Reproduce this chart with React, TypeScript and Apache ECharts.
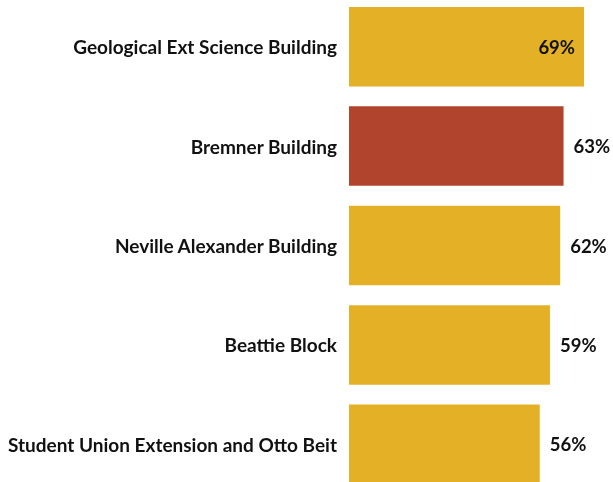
import React, { useEffect, useRef } from "react";
import * as echarts from "echarts";

const categories = [
  "Geological Ext Science Building",
  "Bremner Building",
  "Neville Alexander Building",
  "Beattie Block",
  "Student Union Extension and Otto Beit",
];
const values = [69, 63, 62, 59, 56];
const highlightIndex = 1;
const insideLabelIndex = 0;

const GOLD = "#E3B026";
const RED = "#B0442D";

export default function App() {
  const ref = useRef<HTMLDivElement>(null);
  useEffect(() => {
    if (!ref.current) return;
    const chart = echarts.init(ref.current, null, { renderer: "svg" });
    chart.setOption({
      animation: false,
      grid: {
        left: 349,
        width: 235,
        top: -3,
        height: 497,
        containLabel: false,
        outerBoundsMode: "none",
      },
      xAxis: {
        type: "value",
        min: 0,
        max: 69,
        show: false,
      },
      yAxis: {
        type: "category",
        data: categories,
        inverse: true,
        axisLine: { show: false },
        axisTick: { show: false },
        axisLabel: {
          color: "#111",
          fontFamily: "Lato",
          fontWeight: "bold",
          fontSize: 19,
          margin: 12,
        },
      },
      series: [
        {
          type: "bar",
          barCategoryGap: "20%",
          data: values.map((v, i) => ({
            value: v,
            itemStyle: { color: i === highlightIndex ? RED : GOLD },
            label:
              i === insideLabelIndex
                ? { position: "insideRight", distance: 9 }
                : { position: "right", distance: 10 },
          })),
          label: {
            show: true,
            formatter: "{c}%",
            color: "#111",
            fontFamily: "Lato",
            fontWeight: "bold",
            fontSize: 18.5,
          },
        },
      ],
    });
    return () => chart.dispose();
  }, []);
  return (
    <div
      ref={ref}
      style={{ position: "fixed", left: 0, top: 0, width: 613, height: 482 }}
    />
  );
}
